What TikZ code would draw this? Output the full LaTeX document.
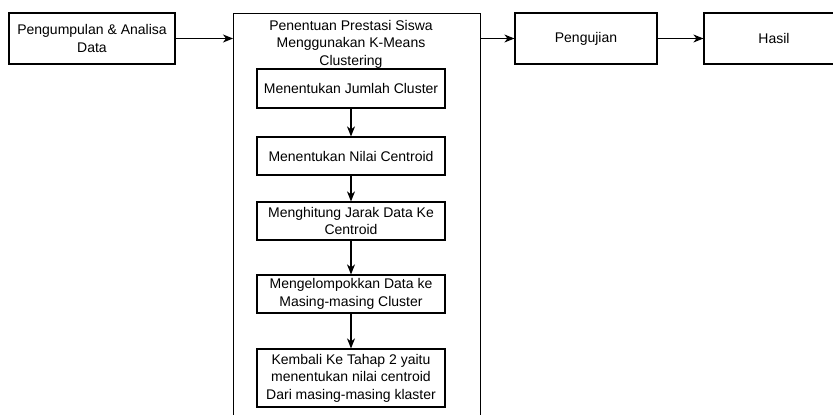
\documentclass[tikz,border=0pt]{standalone}
\usepackage{fontspec}
\setmainfont{Liberation Sans}
\usetikzlibrary{arrows.meta}
\tikzset{
  boxstyle/.style={draw, line width=1.2pt, inner sep=2pt, align=center, font=\fontsize{14}{17.5}\selectfont},
  flow/.style={line width=1.2pt, -{Stealth[length=10pt,width=8pt,inset=3pt]}}
}
\newcommand{\procbox}[6]{\node[boxstyle, minimum width=#4pt, minimum height=#5pt] (#1) at ( #2 , #3 ) {#6};}

\begin{document}
\begin{tikzpicture}[x=1pt,y=-1pt]
        \useasboundingbox (0,0) rectangle (833,415);
        \clip (0,0) rectangle (833,415);

        % top row
        \procbox{data}{92}{38.5}{166}{51}{Pengumpulan \& Analisa\\Data}
        \node[boxstyle, minimum width=247pt, minimum height=430pt, anchor=north west] (kmeans) at (233,13) {};
        \node[align=center, font=\fontsize{14}{17.5}\selectfont] (judul) at (351,44) {Penentuan Prestasi Siswa\\Menggunakan K-Means\\Clustering};
        \procbox{uji}{586}{38.5}{142}{51}{Pengujian}
        \procbox{hasil}{774}{38.5}{140}{51}{Hasil}

        % steps inside k-means
        \procbox{stepA}{351}{88.5}{188}{39}{Menentukan Jumlah Cluster}
        \procbox{stepB}{351}{156}{188}{38}{Menentukan Nilai Centroid}
        \procbox{stepC}{351}{221}{188}{38}{Menghitung Jarak Data Ke\\Centroid}
        \procbox{stepD}{351}{294}{188}{38}{Mengelompokkan Data ke\\Masing-masing Cluster}
        \procbox{stepE}{351}{378}{188}{58}{Kembali Ke Tahap 2 yaitu\\menentukan nilai centroid\\Dari masing-masing klaster}

        % arrows top row
        \draw[flow] (data.east) -- (data.east -| kmeans.west);
        \draw[flow] (uji.west -| kmeans.east) -- (uji.west);
        \draw[flow] (uji.east) -- (hasil.west);

        % arrows steps
        \draw[flow] (stepA.south) -- (stepB.north);
        \draw[flow] (stepB.south) -- (stepC.north);
        \draw[flow] (stepC.south) -- (stepD.north);
        \draw[flow] (stepD.south) -- (stepE.north);
    \end{tikzpicture}
\end{document}
